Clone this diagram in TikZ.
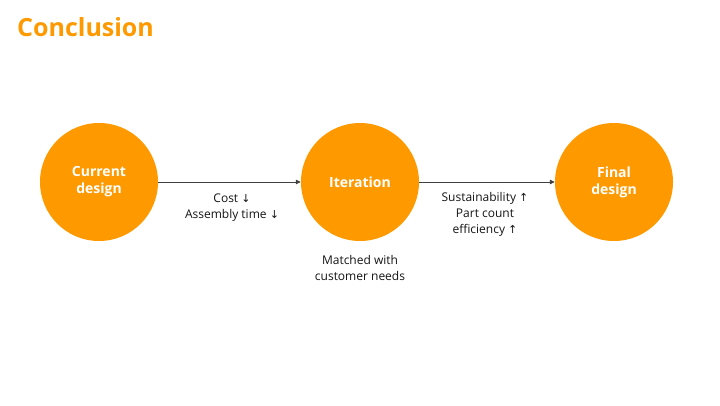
\documentclass[tikz,border=0pt]{standalone}
\usepackage{fontspec}
\setmainfont{Open Sans}
\newfontfamily\symfont{DejaVu Sans}
\usetikzlibrary{arrows.meta}
\definecolor{orng}{RGB}{255,153,0}
\definecolor{arr}{RGB}{64,64,64}
\definecolor{txt}{RGB}{20,20,20}
\newcommand{\dnar}{{\symfont\fontsize{11}{16}\selectfont ↓}}
\newcommand{\upar}{{\symfont\fontsize{11}{16}\selectfont ↑}}
\tikzset{
  stage/.style={circle, fill=orng, minimum size=118pt, inner sep=0pt, text=white, font=\fontsize{14}{17}\selectfont\bfseries, align=center},
  link/.style={draw=arr, line width=0.8pt, -{Triangle[length=5pt,width=4.5pt]}},
  lbl/.style={font=\fontsize{12}{16}\selectfont, text=txt, align=center, inner sep=0pt}
}
\begin{document}
\begin{tikzpicture}[x=1pt,y=-1pt]
\useasboundingbox (0,0) rectangle (720,405);
\node[anchor=west, inner sep=0pt, text=orng, font=\fontsize{25}{30}\selectfont\bfseries] (title) at (17,27) {Conclusion};
\node[stage] (cur) at (99,182) {Current\\design};
\node[stage] (it) at (360,182) {Iteration};
\node[stage] (fin) at (614,182) {Final\\design};
\draw[link] (cur) -- (it);
\draw[link] (it) -- (fin);
\node[lbl] (l1) at (232,208) {Cost \dnar\\Assembly time \dnar};
\node[lbl] (l2) at (360,268) {Matched with\\customer needs};
\node[lbl] (l3) at (485,214) {Sustainability \upar\\Part count\\efficiency \upar};
\end{tikzpicture}
\end{document}
